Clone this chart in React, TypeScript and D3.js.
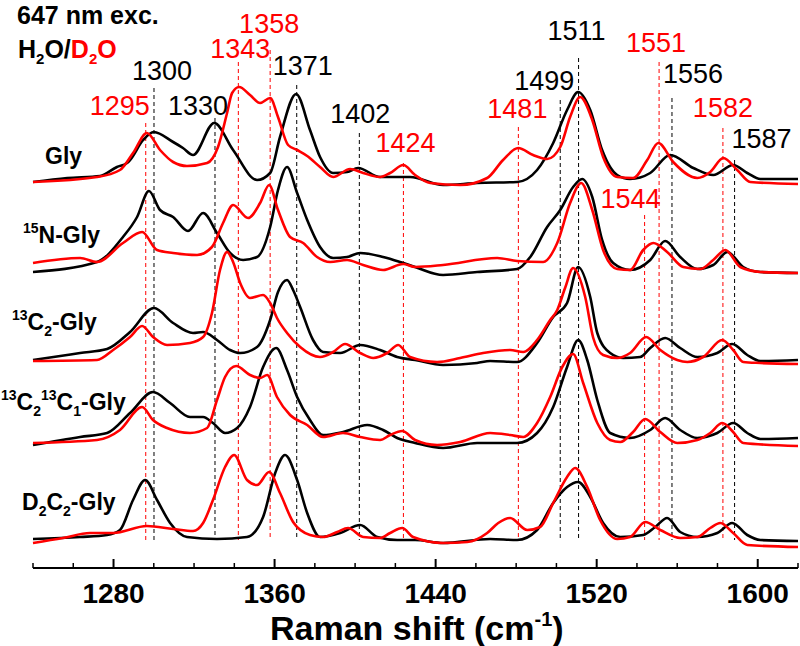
import React from 'react';
import * as d3 from 'd3';

const W = 800;
const H = 646;

// Spectra: [Raman shift (cm-1), stacked intensity (a.u., offset included)]
const glyH2O: [number, number][] = [
  [1240, 386], [1257, 390], [1273.3, 392], [1281.7, 401], [1286.7, 405], [1288.2, 408], [1294.7, 428], [1300, 436],
  [1309.6, 426], [1314.5, 420], [1319.5, 413], [1330, 445], [1339.4, 418], [1351.3, 388], [1357.8, 395], [1362.7, 431],
  [1370.7, 474], [1377.6, 438], [1382.6, 411], [1389.1, 395], [1396, 396], [1401.5, 400], [1412.4, 391], [1427.3, 391],
  [1443.7, 383], [1460.6, 385], [1480.5, 386], [1490.4, 398], [1498.4, 425], [1505.3, 458], [1510.8, 476], [1516.8, 458],
  [1522.7, 418], [1530.2, 393], [1536.6, 389], [1546.6, 395], [1556.5, 413], [1568, 400], [1577.9, 393], [1587.8, 403],
  [1594.8, 395], [1601.3, 389], [1620, 389],
];
const glyD2O: [number, number][] = [
  [1240, 386], [1271.8, 391], [1283.2, 398], [1289.7, 415], [1296.6, 435], [1303.1, 418], [1309.6, 406], [1316.5, 402],
  [1326.5, 405], [1331.9, 421], [1336.4, 455], [1338.9, 475], [1342.4, 481], [1347.8, 473], [1352.8, 465], [1357.8, 470],
  [1361.7, 451], [1366.7, 423], [1371.2, 418], [1376.2, 412], [1382.6, 401], [1389.1, 391], [1397.5, 399], [1404, 395],
  [1412.4, 391], [1417.4, 395], [1423.9, 403], [1429.8, 393], [1437.3, 385], [1452.2, 383], [1465.6, 390], [1473.5, 408],
  [1481, 420], [1488.4, 413], [1495.4, 409], [1501.9, 421], [1506.8, 451], [1511.8, 471], [1517.8, 448], [1523.2, 411],
  [1530.2, 391], [1538.1, 390], [1545.1, 408], [1550.6, 425], [1558, 406], [1570, 390], [1576.4, 396], [1582.9, 410],
  [1589.8, 398], [1596.3, 386], [1620, 384],
];
const n15H2O: [number, number][] = [
  [1240, 296], [1271.8, 306], [1284.7, 331], [1291.7, 351], [1297.6, 377], [1303.1, 358], [1309.6, 351], [1317, 337],
  [1324.5, 355], [1331.4, 335], [1337.9, 315], [1344.4, 308], [1351.3, 311], [1357.8, 341], [1361.7, 378], [1366.2, 401],
  [1371.2, 375], [1376.2, 348], [1382.6, 321], [1389.1, 310], [1396, 311], [1402.5, 315], [1413.9, 311], [1422.4, 306],
  [1429.8, 301], [1443.7, 293], [1460.6, 296], [1480.5, 299], [1487, 311], [1495.4, 341], [1501.9, 358], [1508.3, 381],
  [1512.8, 389], [1517.8, 371], [1522.7, 328], [1528.2, 305], [1536.6, 298], [1546.6, 308], [1554, 327], [1561.5, 311],
  [1570, 299], [1577.9, 303], [1584.9, 316], [1592.8, 301], [1601.3, 296], [1620, 295],
];
const n15D2O: [number, number][] = [
  [1240, 305], [1263.4, 310], [1271.8, 306], [1284.7, 325], [1294.2, 336], [1301.6, 318], [1309.6, 315], [1321.5, 313],
  [1328.9, 321], [1334.4, 345], [1339.4, 363], [1346.8, 350], [1352.8, 365], [1357.3, 383], [1361.7, 358], [1367.7, 331],
  [1374.2, 325], [1381.1, 311], [1387.6, 306], [1396, 308], [1404, 303], [1413.9, 298], [1423.9, 304], [1429.8, 301],
  [1443.7, 303], [1470.6, 310], [1480.5, 307], [1493.4, 306], [1500.4, 325], [1506.8, 365], [1512.3, 385], [1517.8, 358],
  [1523.2, 318], [1530.2, 299], [1536.6, 298], [1543.1, 318], [1548.1, 325], [1555, 316], [1563, 301], [1571.4, 299],
  [1577.9, 308], [1583.9, 318], [1591.3, 301], [1601.3, 296], [1620, 295],
];
const c13H2O: [number, number][] = [
  [1240, 208], [1263.4, 215], [1276.8, 219], [1288.2, 236], [1300.1, 260], [1309.6, 245], [1319.5, 235], [1324.5, 236],
  [1331.4, 228], [1337.9, 218], [1342.9, 215], [1351.3, 221], [1357.8, 248], [1361.7, 276], [1366.2, 288], [1369.2, 278],
  [1372.7, 261], [1379.1, 228], [1384.1, 216], [1392.6, 215], [1402.5, 223], [1412.4, 218], [1420.9, 211], [1429.8, 208],
  [1443.7, 203], [1460.6, 205], [1467.1, 207], [1480.5, 206], [1490.4, 225], [1498.4, 251], [1505.3, 265], [1510.8, 301],
  [1516.8, 271], [1520.3, 235], [1526.7, 215], [1533.2, 210], [1541.6, 211], [1546.6, 220], [1554, 230], [1561.5, 220],
  [1570, 211], [1579.9, 215], [1587.3, 224], [1594.8, 213], [1601.3, 207], [1620, 208],
];
const c13D2O: [number, number][] = [
  [1240, 207], [1271.8, 208], [1279.8, 218], [1288.2, 231], [1294.2, 242], [1299.6, 231], [1306.6, 223], [1318, 225],
  [1324.5, 231], [1328.9, 255], [1332.9, 298], [1336.4, 316], [1339.4, 306], [1342.9, 285], [1347.8, 270], [1354.3, 273],
  [1357.8, 265], [1361.2, 250], [1366.2, 235], [1372.7, 221], [1382.6, 211], [1389.1, 216], [1395, 224], [1402.5, 215],
  [1409, 210], [1415.9, 215], [1421.4, 223], [1427.3, 211], [1440.7, 206], [1452.2, 210], [1463.6, 215], [1477, 218],
  [1483.5, 216], [1490.4, 228], [1496.9, 248], [1500.4, 258], [1504.3, 280], [1508.3, 300], [1514.3, 271], [1518.3, 230],
  [1523.2, 213], [1530.2, 210], [1536.6, 215], [1544.6, 231], [1551.6, 218], [1560, 208], [1565, 206], [1572.9, 211],
  [1582.4, 228], [1587.8, 218], [1592.8, 206], [1601.3, 205], [1620, 204],
];
const c13c13H2O: [number, number][] = [
  [1240, 123], [1263.4, 131], [1276.8, 135], [1288.2, 155], [1299.6, 176], [1308.1, 165], [1318, 151], [1324.5, 151],
  [1329.4, 145], [1335.4, 135], [1341.4, 140], [1347.8, 161], [1354.3, 201], [1360.8, 220], [1366.2, 198], [1371.2, 171],
  [1377.6, 148], [1384.1, 133], [1394, 136], [1406, 143], [1413.9, 138], [1420.9, 130], [1429.8, 125], [1443.7, 120],
  [1460.6, 125], [1480.5, 125], [1490.4, 135], [1498.4, 161], [1505.3, 201], [1510.8, 228], [1515.3, 208], [1520.3, 168],
  [1526.7, 135], [1536.6, 130], [1546.6, 138], [1554, 150], [1561.5, 138], [1570, 130], [1579.9, 135], [1587.8, 145],
  [1594.8, 135], [1601.3, 129], [1620, 130],
];
const c13c13D2O: [number, number][] = [
  [1240, 125], [1271.8, 128], [1283.2, 138], [1294.2, 161], [1299.6, 148], [1306.6, 140], [1318, 135], [1326.5, 140],
  [1331.4, 168], [1335.4, 191], [1340.9, 202], [1347.8, 193], [1352.8, 190], [1356.3, 193], [1361.2, 171], [1367.7, 153],
  [1376.2, 143], [1384.1, 131], [1394, 135], [1402.5, 131], [1412.4, 128], [1417.4, 133], [1423.4, 137], [1429.8, 128],
  [1440.7, 123], [1452.2, 126], [1467.1, 135], [1477, 133], [1483.5, 131], [1490.4, 145], [1496.9, 171], [1502.9, 201],
  [1508.3, 214], [1513.3, 185], [1520.3, 145], [1526.7, 128], [1531.7, 126], [1538.1, 136], [1544.1, 149], [1551.6, 136],
  [1560, 125], [1570, 128], [1576.4, 135], [1582.4, 145], [1587.8, 136], [1592.8, 125], [1620, 122],
];
const d2c2H2O: [number, number][] = [
  [1240, 29], [1263.4, 31], [1276.8, 33], [1283.2, 38], [1289.7, 68], [1295.7, 88], [1301.6, 68], [1308.1, 45],
  [1316.5, 31], [1331.4, 29], [1346.3, 31], [1354.3, 51], [1360.3, 95], [1365.2, 113], [1371.2, 88], [1376.2, 55],
  [1382.6, 31], [1392.6, 35], [1402.5, 43], [1411, 31], [1420.9, 28], [1429.8, 28], [1443.7, 25], [1467.1, 29],
  [1480.5, 28], [1490.4, 38], [1498.4, 65], [1505.3, 81], [1510.8, 86], [1516.8, 71], [1523.2, 45], [1531.7, 31],
  [1543.1, 33], [1549.1, 41], [1555, 50], [1561.5, 36], [1570, 31], [1579.9, 35], [1587.3, 45], [1594.8, 33],
  [1601.3, 28], [1620, 27],
];
const d2c2D2O: [number, number][] = [
  [1240, 25], [1254.9, 30], [1268.3, 35], [1279.8, 35], [1296.6, 42], [1309.6, 39], [1319.5, 37], [1324.5, 45],
  [1329.4, 68], [1335.4, 101], [1339.9, 113], [1346.3, 88], [1351.3, 83], [1357.3, 96], [1362.7, 75], [1369.2, 46],
  [1377.6, 33], [1384.1, 31], [1391.1, 36], [1396.5, 40], [1404, 31], [1412.4, 30], [1417.4, 35], [1423.4, 40],
  [1428.8, 31], [1443.7, 25], [1455.7, 26], [1465.6, 35], [1471.1, 45], [1477, 50], [1485.5, 38], [1491.9, 41],
  [1498.4, 65], [1505.3, 91], [1509.3, 100], [1515.3, 81], [1521.7, 48], [1530.2, 29], [1536.6, 31], [1544.1, 46],
  [1551.6, 38], [1561.5, 30], [1570, 31], [1576.4, 40], [1581.4, 45], [1587.8, 35], [1594.8, 23], [1620, 21],
];

const h2oSeries = [glyH2O, n15H2O, c13H2O, c13c13H2O, d2c2H2O];
const d2oSeries = [glyD2O, n15D2O, c13D2O, c13c13D2O, d2c2D2O];

// Peak annotations
const blackPeakLabels = ['1300', '1330', '1371', '1402', '1499', '1511', '1556', '1587'];
const blackPeakPos = [1300.1, 1330.4, 1371, 1402.1, 1501.9, 1511, 1557.4, 1588.5];
const redPeakLabels = ['1295', '1343', '1358', '1424', '1481', '1544', '1551', '1582'];
const redPeakPos = [1296, 1342, 1357.8, 1424, 1481.1, 1543.8, 1551, 1582.7];

// label layout (pixel): [text dx, text baseline y, dashed line top y]
const blackLayout = [[8, 80, 88], [-17, 115, 118], [6, 75, 85], [1, 123, 133], [-16, 90, 100], [-2, 40, 58], [21, 83, 98], [27, 148, 160]];
const redLayout = [[-26, 115, 123], [2, 58, 62], [-1, 33, 50], [2, 152, 163], [-1, 118, 127], [-14, 208, 215], [-3, 52, 62], [0, 117, 128]];

const majorTicks = [1280, 1360, 1440, 1520, 1600];
const minorTicks = [1240, 1260, 1300, 1320, 1340, 1380, 1400, 1420, 1460, 1480, 1500, 1540, 1560, 1580, 1620];

const FONT = '"Liberation Sans", Arial, Helvetica, sans-serif';
const RED = '#ff0000';

export default function App() {
  const x = d3.scaleLinear().domain([1240, 1620]).range([33, 798]);
  const y = d3.scaleLinear().domain([0, 568]).range([568, 0]);
  const line = d3
    .line<[number, number]>()
    .x((d) => x(d[0]))
    .y((d) => y(d[1]))
    .curve(d3.curveMonotoneX);
  const axisY = 568;
  const dashBottom = 540;

  return (
    <svg width={W} height={H} style={{ position: 'absolute', left: 0, top: 0, background: '#fff' }} fontFamily={FONT}>
      <rect x={0} y={0} width={W} height={H} fill="#fff" />
      {/* dashed peak lines */}
      {blackPeakPos.map((p, i) => (
        <line key={'bl' + i} x1={x(p)} x2={x(p)} y1={blackLayout[i][2]} y2={dashBottom} stroke="#000" strokeWidth={1} strokeDasharray="4 3" />
      ))}
      {redPeakPos.map((p, i) => (
        <line key={'rl' + i} x1={x(p)} x2={x(p)} y1={redLayout[i][2]} y2={dashBottom} stroke={RED} strokeWidth={1} strokeDasharray="4 3" />
      ))}
      {/* spectra */}
      {h2oSeries.map((s, i) => (
        <path key={'h' + i} d={line(s) || ''} fill="none" stroke="#000" strokeWidth={2.6} strokeLinejoin="round" />
      ))}
      {d2oSeries.map((s, i) => (
        <path key={'d' + i} d={line(s) || ''} fill="none" stroke={RED} strokeWidth={2.6} strokeLinejoin="round" />
      ))}
      {/* peak labels */}
      {blackPeakLabels.map((t, i) => (
        <text key={'bt' + i} x={x(blackPeakPos[i]) + blackLayout[i][0]} y={blackLayout[i][1]} fontSize={27} textAnchor="middle" fill="#000">{t}</text>
      ))}
      {redPeakLabels.map((t, i) => (
        <text key={'rt' + i} x={x(redPeakPos[i]) + redLayout[i][0]} y={redLayout[i][1]} fontSize={27} textAnchor="middle" fill={RED}>{t}</text>
      ))}
      {/* header */}
      <text x={17} y={24} fontSize={25} fontWeight="bold">647 nm exc.</text>
      <text x={18} y={58} fontSize={25} fontWeight="bold">
        <tspan>H</tspan>
        <tspan fontSize={15} dy={6}>2</tspan>
        <tspan dy={-6}>O/</tspan>
        <tspan fill={RED}>D</tspan>
        <tspan fill={RED} fontSize={15} dy={6}>2</tspan>
        <tspan fill={RED} dy={-6}>O</tspan>
      </text>
      {/* spectrum labels */}
      <text x={45} y={164} fontSize={23} fontWeight="bold">Gly</text>
      <text x={23} y={243} fontSize={23} fontWeight="bold">
        <tspan fontSize={14} dy={-10}>15</tspan>
        <tspan dy={10}>N-Gly</tspan>
      </text>
      <text x={12} y={330} fontSize={23} fontWeight="bold">
        <tspan fontSize={14} dy={-10}>13</tspan>
        <tspan dy={10}>C</tspan>
        <tspan fontSize={14} dy={6}>2</tspan>
        <tspan dy={-6}>-Gly</tspan>
      </text>
      <text x={1} y={410} fontSize={23} fontWeight="bold">
        <tspan fontSize={14} dy={-10}>13</tspan>
        <tspan dy={10}>C</tspan>
        <tspan fontSize={14} dy={6}>2</tspan>
        <tspan fontSize={14} dy={-16}>13</tspan>
        <tspan dy={10}>C</tspan>
        <tspan fontSize={14} dy={6}>1</tspan>
        <tspan dy={-6}>-Gly</tspan>
      </text>
      <text x={22} y={510} fontSize={23} fontWeight="bold">
        <tspan>D</tspan>
        <tspan fontSize={14} dy={6}>2</tspan>
        <tspan dy={-6}>C</tspan>
        <tspan fontSize={14} dy={6}>2</tspan>
        <tspan dy={-6}>-Gly</tspan>
      </text>
      {/* x axis */}
      <line x1={33} x2={798} y1={axisY} y2={axisY} stroke="#000" strokeWidth={2} />
      {majorTicks.map((t) => (
        <g key={'M' + t}>
          <line x1={x(t)} x2={x(t)} y1={axisY} y2={axisY - 9} stroke="#000" strokeWidth={2} />
          <text x={x(t)} y={603} fontSize={28} fontWeight="bold" textAnchor="middle">{t}</text>
        </g>
      ))}
      {minorTicks.map((t) => (
        <line key={'m' + t} x1={x(t)} x2={x(t)} y1={axisY} y2={axisY - 5} stroke="#000" strokeWidth={1.5} />
      ))}
      <text x={270} y={640} fontSize={34} fontWeight="bold">
        <tspan>Raman shift (cm</tspan>
        <tspan fontSize={20} dy={-14}>-1</tspan>
        <tspan dy={14}>)</tspan>
      </text>
    </svg>
  );
}
